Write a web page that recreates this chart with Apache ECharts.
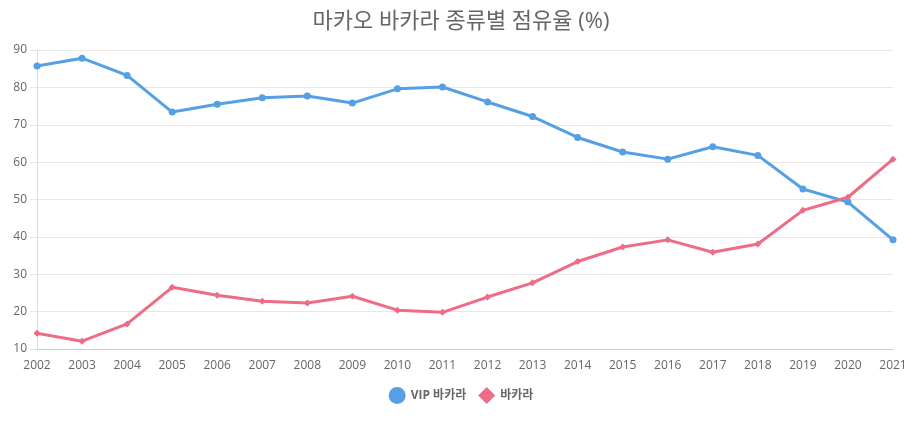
<!DOCTYPE html>
<html>
<head>
<meta charset="utf-8">
<script src="https://cdn.jsdelivr.net/npm/echarts@6/dist/echarts.min.js"></script>
<style>html,body{margin:0;padding:0;background:#fff;}#c{width:922px;height:421px;}</style>
</head>
<body>
<div id="c"></div>
<script>
const years = ['2002','2003','2004','2005','2006','2007','2008','2009','2010','2011','2012','2013','2014','2015','2016','2017','2018','2019','2020','2021'];
const vipBaccarat = [85.7,87.8,83.2,73.4,75.5,77.2,77.7,75.8,79.6,80.1,76.1,72.2,66.6,62.7,60.8,64.1,61.8,52.8,49.3,39.2];
const baccarat = [14.2,12.1,16.7,26.5,24.4,22.8,22.3,24.1,20.4,19.8,23.9,27.7,33.4,37.3,39.2,35.9,38.1,47.1,50.6,60.8];
const seriesNames = ['VIP 바카라','바카라'];
const titleText = '마카오 바카라 종류별 점유율 (%)';

const FONT = '"Open Sans", "Noto Sans CJK KR", sans-serif';
const chart = echarts.init(document.getElementById('c'));
chart.setOption({
  animation: false,
  textStyle: {fontFamily: FONT},
  title: {
    text: titleText, left: 'center', top: 6,
    textStyle: {fontFamily: FONT, fontSize: 22, fontWeight: 'normal', color: '#666'}
  },
  legend: {
    bottom: 12, left: 'center', itemWidth: 17, itemHeight: 17, itemGap: 12,
    textStyle: {fontFamily: FONT, fontSize: 12, fontWeight: 'bold', color: '#666'},
    data: [{name: seriesNames[0], icon: 'circle'}, {name: seriesNames[1], icon: 'diamond'}]
  },
  grid: {left: 37, right: 29, top: 50, bottom: 72},
  xAxis: {
    type: 'category', data: years, boundaryGap: false,
    axisLine: {lineStyle: {color: '#ccc'}},
    axisTick: {show: false},
    axisLabel: {color: '#666', fontSize: 12, margin: 11, interval: 0},
    splitLine: {show: false}
  },
  yAxis: {
    type: 'value', min: 10, max: 90, interval: 10,
    axisLine: {show: true, lineStyle: {color: '#ddd'}},
    axisTick: {show: true, length: 7, lineStyle: {color: '#e6e6e6'}},
    axisLabel: {color: '#666', fontSize: 12, margin: 10},
    splitLine: {lineStyle: {color: '#e6e6e6'}}
  },
  series: [
    {name: seriesNames[0], type: 'line', data: vipBaccarat, symbol: 'circle', symbolSize: 7,
     lineStyle: {width: 3, color: '#55a0e4'}, itemStyle: {color: '#55a0e4'}},
    {name: seriesNames[1], type: 'line', data: baccarat, symbol: 'diamond', symbolSize: 7,
     lineStyle: {width: 3, color: '#ee6c85'}, itemStyle: {color: '#ee6c85'}}
  ]
});
</script>
</body>
</html>
